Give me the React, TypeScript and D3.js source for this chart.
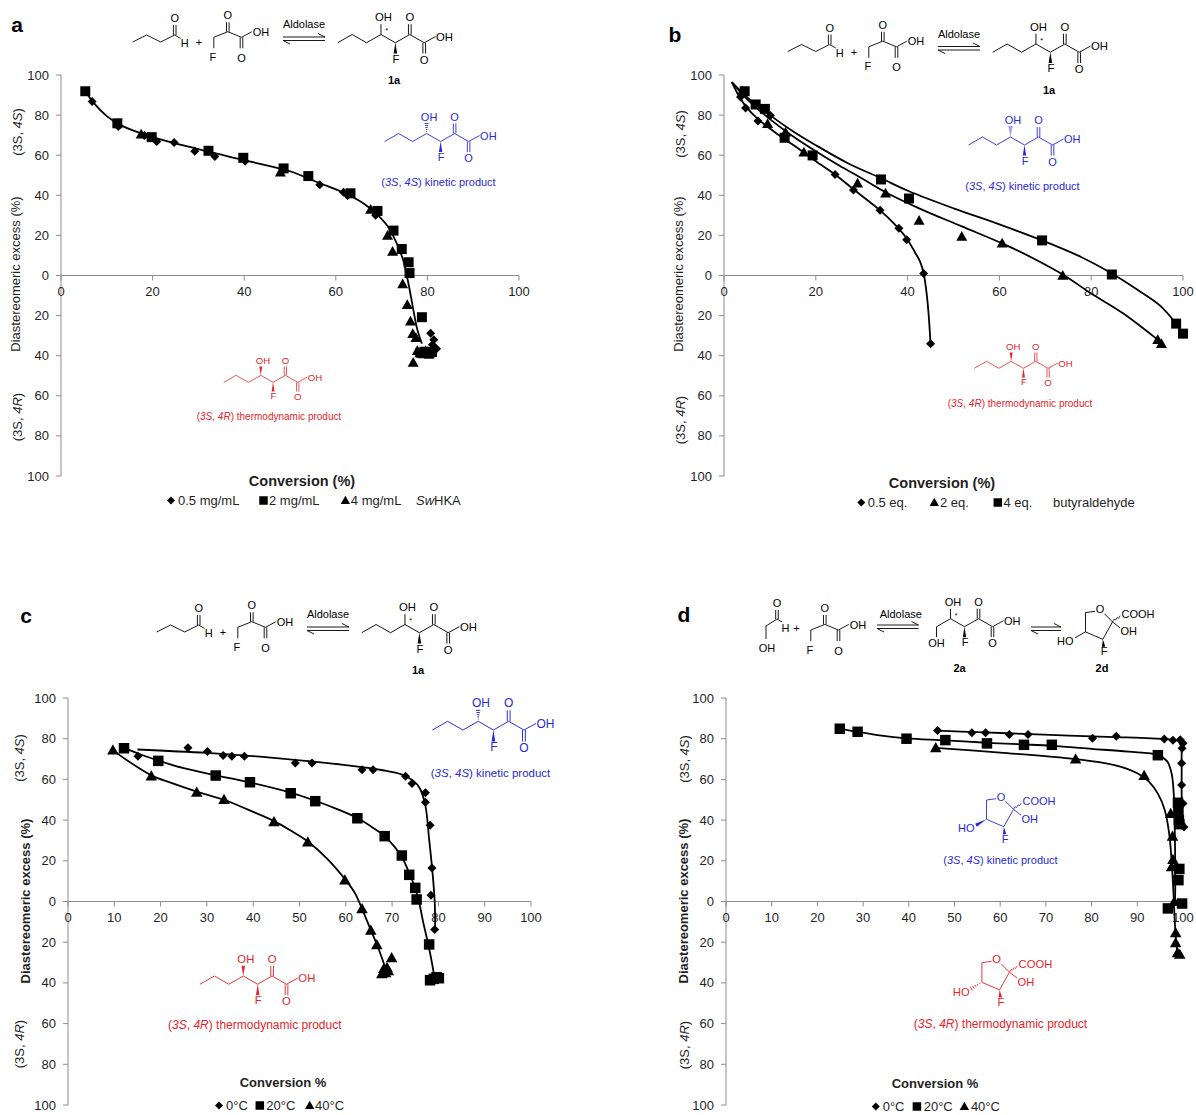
import React from "react";
import * as d3 from "d3";

type Pt = [number, number];
type Shape = "diamond" | "square" | "triangle";

const FONT = "'Liberation Sans', Arial, Helvetica, sans-serif";
const BLUE = "#2a2ad4";
const RED = "#e4262c";
const AXIS = "#8c8c8c";
const INK = "#1f1f1f";

const yTickValues = [100, 80, 60, 40, 20, 0, -20, -40, -60, -80, -100];
const xTicksBy20 = [0, 20, 40, 60, 80, 100];
const xTicksBy10 = [0, 10, 20, 30, 40, 50, 60, 70, 80, 90, 100];

// ---------- panel a : enzyme loading ----------
const aHalfMg: Pt[] = [
  [6.8, 86.8], [12.5, 74.3], [18.2, 69.8], [20.9, 66.8], [24.7, 66.3], [29.2, 62], [33.6, 59.4],
  [40.2, 57], [56.5, 45.3], [61.7, 41.5], [62.6, 39.9], [68.7, 30],
  [80.7, -28.8], [81.4, -32], [81.1, -34.5], [82, -36.5], [80.6, -38],
];
const aTwoMg: Pt[] = [
  [5.3, 91.9], [12.3, 75.9], [19.8, 69], [32.2, 62.2], [39.8, 58.7], [48.6, 53.4], [54, 49.6],
  [63.2, 41], [69.1, 32.2], [72.6, 22.4], [74.4, 13.2], [75.9, 6.6], [76.1, 1.2], [78.8, -20.8],
  [78.5, -38.5], [79.4, -38], [80.4, -39], [81, -38.2],
];
const aFourMg: Pt[] = [
  [17.5, 70.5], [47.9, 51.5], [67.6, 32.9], [71.3, 20], [72.4, 12], [74.6, -4.2], [75.6, -14.6],
  [76.3, -22.8], [76.8, -29], [77.5, -31], [76.9, -43.4], [77.8, -37.5], [78.4, -38.5],
  [79, -39.2], [79.6, -37.6], [80.1, -39],
];
const aFit: Pt[] = [
  [5.3, 92], [7, 86.5], [10, 79.5], [13, 75], [20, 69], [30, 63], [40, 57.5], [50, 52], [56, 46.5],
  [62, 41], [66, 36], [69, 30.5], [71.5, 24], [73.5, 15], [74.8, 7], [75.5, 0], [76.2, -8],
  [77, -18], [77.8, -27], [78.8, -34],
];
const aLegend = ["0.5 mg/mL", "2 mg/mL", "4 mg/mL"];

// ---------- panel b : butyraldehyde equivalents ----------
const bHalfEq: Pt[] = [
  [3.6, 89], [4.7, 83.6], [7.4, 77], [10.1, 79.8], [24.2, 50.4], [28.2, 42.7], [34, 32.5],
  [38.1, 23.6], [39.8, 17.8], [43.5, 1], [45, -34],
];
const bTwoEq: Pt[] = [
  [4, 92], [9.5, 75.7], [13.4, 71.5], [17.4, 61.5], [29.1, 46], [35.2, 41], [42.5, 27.4],
  [51.8, 19.5], [60.6, 16.1], [73.8, 0], [94.5, -32], [95.3, -34],
];
const bFourEq: Pt[] = [
  [4.5, 91.9], [6.9, 85.3], [8.9, 83.1], [13.2, 68.7], [19.3, 59.9], [34.2, 47.9], [40.3, 38.4],
  [69.3, 17.5], [84.5, 0.5], [98.5, -24], [100, -29],
];
const bFitHalf: Pt[] = [
  [1.7, 96.4], [3, 90.5], [4.7, 84.5], [7.4, 78], [12, 70], [17, 62], [20, 57], [24.2, 50.4],
  [28.2, 43], [31, 38], [34, 32.5], [37, 26], [39.8, 18.5], [41.5, 12], [42.7, 7], [43.5, 1],
  [44.2, -10], [44.6, -20], [45, -34],
];
const bFitTwo: Pt[] = [
  [1.7, 96.4], [5, 88], [10, 78], [15, 69.5], [20, 62], [25, 55], [30, 48.5], [35.2, 41.5],
  [42.5, 33.5], [51.8, 24.5], [60.6, 16], [67, 9], [73.8, 0.5], [80, -9], [87, -19], [95, -33],
];
const bFitFour: Pt[] = [
  [1.7, 96.4], [5, 89], [10, 80], [15, 72], [20, 65], [27, 56], [34.2, 48.5], [40.3, 42],
  [50, 33.5], [60, 25.5], [69.3, 17.5], [78, 9], [84.5, 1], [90, -7], [95, -15], [98.5, -24],
  [100, -29],
];
const bLegend = ["0.5 eq.", "2 eq.", "4 eq."];

// ---------- panel c : temperature, 1a ----------
const cT0: Pt[] = [
  [15.1, 71.4], [25.9, 75.5], [30.1, 73.7], [33.5, 71.7], [35.4, 71.4], [38.1, 71.4], [49.1, 68],
  [52.7, 68], [63.5, 64.7], [65.9, 64.7], [72.9, 61.6], [74.3, 58], [77.2, 53.4], [77.2, 48.8],
  [78.2, 37.5], [78.6, 16.5], [78.4, 3.1], [79.2, -13.8],
];
const cT20: Pt[] = [
  [12.1, 75.3], [19.5, 69.1], [31.9, 61.9], [39.3, 58.6], [48.1, 53.2], [53.4, 49.3], [62.5, 40.9],
  [68.4, 32.1], [72.1, 22.6], [73.7, 13.1], [75, 6.7], [75.3, 1], [78, -21.1], [78.2, -38.7],
  [79, -38], [79.6, -37.2], [80.1, -37.7],
];
const cT40: Pt[] = [
  [9.7, 74.4], [18, 61.6], [27.8, 53.7], [33.7, 50.1], [44.5, 39.2], [51.8, 29.2], [59.8, 10.5],
  [63.5, -3.6], [65.4, -14.1], [66.7, -21.3], [69.9, -27.7], [68.2, -33], [68.6, -35],
  [69.2, -34], [67.8, -35.5], [68.9, -32.5],
];
const cFit0: Pt[] = [
  [15, 74.7], [30, 73], [45, 70.5], [60, 67], [68, 64.5], [72, 62.5], [74.5, 59.5], [76, 55.5],
  [77.2, 47], [78, 30.5], [78.7, 15], [79.2, 0], [79.3, -13],
];
const cFit20: Pt[] = [
  [12.1, 75.5], [16, 72], [19.5, 69.3], [25, 65.5], [31.9, 62], [39.3, 58.5], [48.1, 53.5],
  [53.4, 49.5], [58, 45.5], [62.5, 41], [66, 36], [68.4, 32], [70.5, 27], [72.1, 22], [73.7, 14],
  [75, 6.5], [75.8, 0], [76.7, -10], [77.8, -21], [78.6, -30], [79.2, -38],
];
const cFit40: Pt[] = [
  [9.7, 74.4], [13, 69], [18, 62], [22, 58.5], [27.8, 54], [33.7, 50], [39, 45], [44.5, 39.5],
  [48, 35], [51.8, 29.5], [56, 21], [60, 10.5], [62, 4], [63.5, -3.6], [65.4, -14], [66.7, -21],
  [68, -29], [68.6, -33],
];
const tempLegend = ["0°C", "20°C", "40°C"];

// ---------- panel d : temperature, 2a ----------
const dT0: Pt[] = [
  [46.3, 84], [53.8, 82.9], [56.8, 82.9], [62, 82.1], [66.1, 82.1], [80.2, 80.2], [85.4, 81.2],
  [95.9, 79.8], [97.8, 79.2], [99.4, 79.5], [100, 77.8], [99.8, 75.3], [99.7, 67.9], [99.7, 57.2],
  [100, 48.1], [99.6, 38.2], [100.2, 36.6],
];
const dT20: Pt[] = [
  [24.9, 84.9], [28.8, 83.4], [39.5, 80], [48, 79.3], [57.1, 77.7], [65.2, 77], [71.3, 77],
  [94.5, 71.9], [98.9, 48.5], [99, 44.7], [99.1, 40], [99.2, 38], [99.2, 16], [99, 10.5],
  [96.7, -3.4], [99.8, -1],
];
const dT40: Pt[] = [
  [45.9, 75.5], [76.5, 70], [91.5, 61.9], [97.3, 43.2], [97.7, 32], [97.8, 20.6], [97.5, 17],
  [98.1, 0], [98.4, -15.4], [98.4, -20.3], [98.8, -25.2], [99.3, -26],
];
const dFit0: Pt[] = [
  [46.3, 84], [55, 83.2], [65, 82.4], [75, 81.5], [85, 80.8], [93, 80.2], [97.5, 79.6], [99, 78.8],
  [99.6, 76], [99.7, 70], [99.7, 55], [99.8, 37],
];
const dFit20: Pt[] = [
  [24.9, 85], [28.8, 83.4], [34, 81.5], [39.5, 80.2], [48, 79.2], [57, 78], [65, 77.2], [71.3, 76.5],
  [80, 75], [88, 73.6], [94.5, 72], [96.5, 69], [97.5, 63], [98, 52], [98.2, 35], [98.3, 15],
  [98.2, 0], [97.9, -3],
];
const dFit40: Pt[] = [
  [45.9, 75.5], [60, 73.2], [76.5, 70], [85, 67], [90, 63], [92.5, 59], [94.5, 53], [96, 45],
  [97, 33], [97.5, 20], [97.9, 5], [98.2, -10], [98.5, -20], [98.8, -25],
];

// ---------------------------------------------------------------------------

function markerPath(shape: Shape, x: number, y: number, size: number) {
  const h = size / 2;
  if (shape === "diamond") return `M${x},${y - h}L${x + h},${y}L${x},${y + h}L${x - h},${y}Z`;
  if (shape === "square") return `M${x - h},${y - h}h${size}v${size}h${-size}Z`;
  return `M${x},${y - h * 1.1}L${x + h * 1.1},${y + h * 0.85}L${x - h * 1.1},${y + h * 0.85}Z`;
}

interface SeriesCfg { shape: Shape; pts: Pt[]; size: number }
interface PanelCfg {
  x0: number; x1: number; yTop: number; yBot: number; xTicks: number[];
  labelGap: number; series: SeriesCfg[]; fits: Pt[][];
}

function Panel(p: PanelCfg) {
  const xs = d3.scaleLinear().domain([0, 100]).range([p.x0, p.x1]);
  const ys = d3.scaleLinear().domain([100, -100]).range([p.yTop, p.yBot]);
  const y0 = ys(0);
  const line = d3
    .line<Pt>()
    .x((d) => xs(d[0]))
    .y((d) => ys(d[1]))
    .curve(d3.curveCatmullRom.alpha(0.5));
  return (
    <g fontFamily={FONT}>
      <line x1={p.x0} y1={p.yTop} x2={p.x0} y2={p.yBot} stroke={AXIS} strokeWidth={1} />
      {yTickValues.map((v) => (
        <g key={"y" + v}>
          <line x1={p.x0 - 5} x2={p.x0} y1={ys(v)} y2={ys(v)} stroke={AXIS} />
          <text x={p.x0 - p.labelGap} y={ys(v) + 4.5} textAnchor="end" fontSize={13} fill={INK}>
            {Math.abs(v)}
          </text>
        </g>
      ))}
      <line x1={p.x0} x2={p.x1} y1={y0} y2={y0} stroke={AXIS} />
      {p.xTicks.map((v) => (
        <g key={"x" + v}>
          <line x1={xs(v)} x2={xs(v)} y1={y0} y2={y0 + 5} stroke={AXIS} />
          <text x={xs(v)} y={y0 + 20} textAnchor="middle" fontSize={13} fill={INK}>
            {v}
          </text>
        </g>
      ))}
      {p.fits.map((f, i) => (
        <path key={"f" + i} d={line(f) || ""} fill="none" stroke="#000" strokeWidth={1.8} />
      ))}
      {p.series.map((s, i) => (
        <g key={"s" + i}>
          {s.pts.map((d, j) => (
            <path key={j} d={markerPath(s.shape, xs(d[0]), ys(d[1]), s.size)} fill="#000" />
          ))}
        </g>
      ))}
    </g>
  );
}

// ---------- chemistry drawing helpers ----------
function Wedge({ x1, y1, x2, y2, w = 3.4, color }: { x1: number; y1: number; x2: number; y2: number; w?: number; color: string }) {
  const dx = x2 - x1, dy = y2 - y1;
  const L = Math.hypot(dx, dy) || 1;
  const nx = (-dy / L) * (w / 2), ny = (dx / L) * (w / 2);
  return <polygon points={`${x1},${y1} ${x2 + nx},${y2 + ny} ${x2 - nx},${y2 - ny}`} fill={color} stroke="none" />;
}
function Hash({ x1, y1, x2, y2, w = 4, n = 5, color }: { x1: number; y1: number; x2: number; y2: number; w?: number; n?: number; color: string }) {
  const dx = x2 - x1, dy = y2 - y1;
  const L = Math.hypot(dx, dy) || 1;
  const ux = -dy / L, uy = dx / L;
  const segs = [];
  for (let i = 1; i <= n; i++) {
    const t = i / n;
    const cx = x1 + dx * t, cy = y1 + dy * t;
    const h = (w / 2) * t;
    segs.push(<line key={i} x1={cx - ux * h} y1={cy - uy * h} x2={cx + ux * h} y2={cy + uy * h} stroke={color} strokeWidth={0.9} />);
  }
  return <g>{segs}</g>;
}
function Dbl({ x, y1, y2, color }: { x: number; y1: number; y2: number; color: string }) {
  return (
    <g stroke={color} strokeWidth={0.9}>
      <line x1={x - 1.3} y1={y1} x2={x - 1.3} y2={y2} />
      <line x1={x + 1.3} y1={y1} x2={x + 1.3} y2={y2} />
    </g>
  );
}

type Kind = "1a" | "2a" | "kinetic" | "thermo";
function KetoAcid({ x, y, s = 1, color = "#000", kind }: { x: number; y: number; s?: number; color?: string; kind: Kind }) {
  const V: Pt[] = [[0, 8], [14, 0], [28, 8], [42, 0], [56, 8], [70, 0], [84, 8], [95, 2]];
  const pts = kind === "2a" ? V.slice(2) : V;
  return (
    <g transform={`translate(${x},${y}) scale(${s})`} fontFamily={FONT}>
      <polyline points={pts.map((p) => p.join(",")).join(" ")} fill="none" stroke={color} strokeWidth={0.9} />
      {kind === "kinetic" ? (
        <Hash x1={42} y1={0} x2={42} y2={-10} color={color} />
      ) : kind === "thermo" ? (
        <Wedge x1={42} y1={0} x2={42} y2={-10} color={color} />
      ) : (
        <line x1={42} y1={0} x2={42} y2={-10} stroke={color} strokeWidth={0.9} />
      )}
      <Wedge x1={56} y1={8} x2={56} y2={18.5} color={color} />
      <Dbl x={70} y1={0} y2={-10} color={color} />
      <Dbl x={84} y1={8} y2={18.5} color={color} />
      {kind === "2a" && <line x1={28} y1={8} x2={28} y2={18.5} stroke={color} strokeWidth={0.9} />}
      <g fill={color} fontSize={11}>
        <text x={44.5} y={-13} textAnchor="middle">OH</text>
        <text x={56.5} y={27.5} textAnchor="middle">F</text>
        <text x={70} y={-13} textAnchor="middle">O</text>
        <text x={84} y={28.5} textAnchor="middle">O</text>
        <text x={95.5} y={6} textAnchor="start">OH</text>
        {kind === "2a" && <text x={28} y={28.5} textAnchor="middle">OH</text>}
        {(kind === "1a" || kind === "2a") && (
          <text x={47.5} y={-1} fontSize={7} textAnchor="middle">*</text>
        )}
      </g>
    </g>
  );
}

function Butanal({ x, y }: { x: number; y: number }) {
  return (
    <g transform={`translate(${x},${y})`} fontFamily={FONT}>
      <polyline points="0,7 14,0 28,7 42,0 48,3.5" fill="none" stroke="#000" strokeWidth={0.9} />
      <Dbl x={42} y1={0} y2={-10} color="#000" />
      <text x={42} y={-13} fontSize={11} textAnchor="middle">O</text>
      <text x={52} y={12} fontSize={11} textAnchor="middle">H</text>
    </g>
  );
}

function Glycolaldehyde({ x, y }: { x: number; y: number }) {
  return (
    <g transform={`translate(${x},${y})`} fontFamily={FONT}>
      <polyline points="0,13 0,0 11,-7 16,-4" fill="none" stroke="#000" strokeWidth={0.9} />
      <Dbl x={11} y1={-7} y2={-16} color="#000" />
      <text x={11} y={-19} fontSize={11} textAnchor="middle">O</text>
      <text x={19.5} y={6} fontSize={11} textAnchor="middle">H</text>
      <text x={1} y={26} fontSize={11} textAnchor="middle">OH</text>
    </g>
  );
}

function Fluoropyruvate({ x, y }: { x: number; y: number }) {
  return (
    <g transform={`translate(${x},${y})`} fontFamily={FONT}>
      <polyline points="0,11 0,0 14,-5.6 27.7,0 38,-5.6" fill="none" stroke="#000" strokeWidth={0.9} />
      <Dbl x={14} y1={-5.6} y2={-15} color="#000" />
      <Dbl x={27.7} y1={0} y2={11} color="#000" />
      <text x={-1} y={23.5} fontSize={11} textAnchor="middle">F</text>
      <text x={14} y={-18} fontSize={11} textAnchor="middle">O</text>
      <text x={27.7} y={24.5} fontSize={11} textAnchor="middle">O</text>
      <text x={39} y={-1.5} fontSize={11}>OH</text>
    </g>
  );
}

function Equil({ x1, x2, y }: { x1: number; x2: number; y: number }) {
  return (
    <g stroke="#000" strokeWidth={0.9} fill="none">
      <path d={`M${x1},${y}H${x2}l-7,-3.5`} />
      <path d={`M${x2},${y + 3.5}H${x1}l7,3.5`} />
    </g>
  );
}

function Furanose({ x, y, s = 1, color = "#000", ho }: { x: number; y: number; s?: number; color?: string; ho: "plain" | "bold" | "hash" }) {
  const c4: Pt = [-14.5, 22.6];
  const hoEnd: Pt = [-25, 28.5];
  return (
    <g transform={`translate(${x},${y}) scale(${s})`} fontFamily={FONT}>
      <polyline points="-5,2 -14.5,3.3 -14.5,22.6 2.8,30 12.5,12.6 4.5,4.5" fill="none" stroke={color} strokeWidth={0.9} />
      {ho === "plain" ? (
        <line x1={c4[0]} y1={c4[1]} x2={hoEnd[0]} y2={hoEnd[1]} stroke={color} strokeWidth={0.9} />
      ) : ho === "bold" ? (
        <Wedge x1={c4[0]} y1={c4[1]} x2={hoEnd[0]} y2={hoEnd[1]} color={color} />
      ) : (
        <Hash x1={c4[0]} y1={c4[1]} x2={hoEnd[0]} y2={hoEnd[1]} color={color} />
      )}
      <Wedge x1={2.8} y1={30} x2={3.6} y2={37.5} color={color} />
      <path d="M12.5,12.6 l1.6,-2.6 l1.4,0.8 l1.6,-2.6 l1.4,0.8 l1.6,-2.6" fill="none" stroke={color} strokeWidth={0.8} />
      <line x1={12.5} y1={12.6} x2={20} y2={18.5} stroke={color} strokeWidth={0.9} />
      <g fill={color} fontSize={11}>
        <text x={0} y={4} textAnchor="middle">O</text>
        <text x={21.5} y={8.5}>COOH</text>
        <text x={20.5} y={26}>OH</text>
        <text x={4.2} y={46} textAnchor="middle">F</text>
        <text x={-26.5} y={35.5} textAnchor="end">HO</text>
      </g>
    </g>
  );
}

function Stereo({ x, y, size, color, b, suffix = "" }: { x: number; y: number; size: number; color: string; b: string; suffix?: string }) {
  return (
    <text x={x} y={y} fontSize={size} fill={color} textAnchor="middle" fontFamily={FONT}>
      {"("}
      <tspan fontStyle="italic">3S</tspan>
      {", "}
      <tspan fontStyle="italic">{b}</tspan>
      {")" + suffix}
    </text>
  );
}

function YTitle({ x, cy, bold, kind }: { x: number; cy: number; bold?: boolean; kind: "top" | "mid" | "bot" }) {
  const t = `translate(${x + 4.5},${cy}) rotate(-90)`;
  if (kind === "mid")
    return (
      <text transform={t} textAnchor="middle" fontSize={13} fontWeight={bold ? "bold" : "normal"} fill={INK} fontFamily={FONT}>
        Diastereomeric excess (%)
      </text>
    );
  return (
    <text transform={t} textAnchor="middle" fontSize={13} fill={INK} fontFamily={FONT}>
      {"("}3S{", "}
      <tspan fontStyle="italic">{kind === "top" ? "4S" : "4R"}</tspan>
      {")"}
    </text>
  );
}

function SchemeA() {
  return (
    <g fontFamily={FONT}>
      <Butanal x={132.7} y={35} />
      <text x={199} y={46} fontSize={11} textAnchor="middle">+</text>
      <Fluoropyruvate x={213.8} y={37.3} />
      <text x={304} y={28} fontSize={11} textAnchor="middle">Aldolase</text>
      <Equil x1={283} x2={325} y={37} />
      <KetoAcid x={337.7} y={34.5} s={1.03} kind="1a" />
      <text x={394} y={84} fontSize={11} fontWeight="bold" textAnchor="middle">1a</text>
    </g>
  );
}

function SchemeD() {
  return (
    <g fontFamily={FONT}>
      <Glycolaldehyde x={766} y={626} />
      <text x={796.5} y={632} fontSize={11} textAnchor="middle">+</text>
      <Fluoropyruvate x={810.8} y={630} />
      <text x={900.8} y={618} fontSize={11} textAnchor="middle">Aldolase</text>
      <Equil x1={877} x2={918.5} y={625} />
      <KetoAcid x={908.5} y={618.7} kind="2a" />
      <text x={959.6} y={672} fontSize={11} fontWeight="bold" textAnchor="middle">2a</text>
      <Equil x1={1031} x2={1061} y={627} />
      <Furanose x={1100} y={609.3} ho="plain" />
      <text x={1102} y={672} fontSize={11} fontWeight="bold" textAnchor="middle">2d</text>
    </g>
  );
}

function Legend({ items, y }: { items: { shape: Shape; label: string; mx: number; tx: number }[]; y: number }) {
  return (
    <g fontFamily={FONT} fontSize={13} fill={INK}>
      {items.map((it, i) => (
        <g key={i}>
          <path d={markerPath(it.shape, it.mx, y - 4.5, it.shape === "diamond" ? 8 : 8.5)} fill="#000" />
          <text x={it.tx} y={y}>{it.label}</text>
        </g>
      ))}
    </g>
  );
}

export default function App() {
  const panelA: PanelCfg = {
    x0: 61, x1: 519, yTop: 75, yBot: 476, xTicks: xTicksBy20, labelGap: 12,
    fits: [aFit],
    series: [
      { shape: "triangle", pts: aFourMg, size: 10 },
      { shape: "square", pts: aTwoMg, size: 10 },
      { shape: "diamond", pts: aHalfMg, size: 9 },
    ],
  };
  const panelB: PanelCfg = {
    x0: 724, x1: 1183, yTop: 75, yBot: 476, xTicks: xTicksBy20, labelGap: 12,
    fits: [bFitHalf, bFitTwo, bFitFour],
    series: [
      { shape: "diamond", pts: bHalfEq, size: 9 },
      { shape: "triangle", pts: bTwoEq, size: 10 },
      { shape: "square", pts: bFourEq, size: 10 },
    ],
  };
  const panelC: PanelCfg = {
    x0: 68, x1: 531, yTop: 698, yBot: 1105, xTicks: xTicksBy10, labelGap: 12,
    fits: [cFit0, cFit20, cFit40],
    series: [
      { shape: "diamond", pts: cT0, size: 9 },
      { shape: "square", pts: cT20, size: 10.5 },
      { shape: "triangle", pts: cT40, size: 10.5 },
    ],
  };
  const panelD: PanelCfg = {
    x0: 726, x1: 1183, yTop: 698, yBot: 1105, xTicks: xTicksBy10, labelGap: 12,
    fits: [dFit0, dFit20, dFit40],
    series: [
      { shape: "diamond", pts: dT0, size: 9 },
      { shape: "square", pts: dT20, size: 10.5 },
      { shape: "triangle", pts: dT40, size: 10.5 },
    ],
  };

  return (
    <svg
      width={1196}
      height={1115}
      viewBox="0 0 1196 1115"
      style={{ position: "absolute", left: 0, top: 0, background: "#fff", display: "block" }}
      fontFamily={FONT}
    >
      <rect x={0} y={0} width={1196} height={1115} fill="#fff" />

      {/* panel letters */}
      <g fontFamily={FONT} fontWeight="bold" fontSize={21} textAnchor="middle">
        <text x={17} y={32}>a</text>
        <text x={675} y={42}>b</text>
        <text x={26} y={623}>c</text>
        <text x={684} y={622}>d</text>
      </g>

      {/* reaction schemes */}
      <SchemeA />
      <g transform="translate(655,9.5)"><SchemeA /></g>
      <g transform="translate(24,590)"><SchemeA /></g>
      <SchemeD />

      {/* plots */}
      <Panel {...panelA} />
      <Panel {...panelB} />
      <Panel {...panelC} />
      <Panel {...panelD} />

      {/* y titles */}
      <YTitle x={17} cy={132} kind="top" />
      <YTitle x={15} cy={274} kind="mid" />
      <YTitle x={17} cy={417} kind="bot" />
      <YTitle x={680} cy={134} kind="top" />
      <YTitle x={678} cy={274} kind="mid" />
      <YTitle x={680} cy={420} kind="bot" />
      <YTitle x={19} cy={758} kind="top" />
      <YTitle x={25} cy={901} kind="mid" bold />
      <YTitle x={19} cy={1044} kind="bot" />
      <YTitle x={684} cy={759} kind="top" />
      <YTitle x={683} cy={901} kind="mid" bold />
      <YTitle x={684} cy={1045} kind="bot" />

      {/* x titles */}
      <g fontFamily={FONT} fontWeight="bold" textAnchor="middle" fill={INK}>
        <text x={302} y={486} fontSize={14.5}>Conversion (%)</text>
        <text x={942} y={487.5} fontSize={14.5}>Conversion (%)</text>
        <text x={283} y={1087} fontSize={13}>Conversion %</text>
        <text x={935} y={1088} fontSize={13}>Conversion %</text>
      </g>

      {/* product structures and labels */}
      <KetoAcid x={384.6} y={133.5} color={BLUE} kind="kinetic" />
      <Stereo x={438.5} y={186} size={11} color={BLUE} b="4S" suffix=" kinetic product" />
      <KetoAcid x={223.8} y={375.3} s={0.88} color={RED} kind="thermo" />
      <Stereo x={269} y={419.5} size={10} color={RED} b="4R" suffix=" thermodynamic product" />

      <KetoAcid x={968.5} y={137} color={BLUE} kind="kinetic" />
      <Stereo x={1022.5} y={189.5} size={11} color={BLUE} b="4S" suffix=" kinetic product" />
      <KetoAcid x={974.2} y={361.3} s={0.88} color={RED} kind="thermo" />
      <Stereo x={1020} y={407} size={10} color={RED} b="4R" suffix=" thermodynamic product" />

      <KetoAcid x={432.4} y={721.3} s={1.09} color={BLUE} kind="kinetic" />
      <Stereo x={490.5} y={776.5} size={11.5} color={BLUE} b="4S" suffix=" kinetic product" />
      <KetoAcid x={200} y={976} s={1.03} color={RED} kind="thermo" />
      <Stereo x={254.8} y={1028.5} size={12} color={RED} b="4R" suffix=" thermodynamic product" />

      <Furanose x={1001} y={796.7} color={BLUE} ho="bold" />
      <Stereo x={1000.5} y={863.5} size={11} color={BLUE} b="4S" suffix=" kinetic product" />
      <Furanose x={996.7} y={959.3} s={1.02} color={RED} ho="hash" />
      <Stereo x={1000.5} y={1027.5} size={12} color={RED} b="4R" suffix=" thermodynamic product" />

      {/* legends */}
      <Legend
        y={505}
        items={[
          { shape: "diamond", label: aLegend[0], mx: 171, tx: 178 },
          { shape: "square", label: aLegend[1], mx: 263.5, tx: 269 },
          { shape: "triangle", label: aLegend[2], mx: 345.4, tx: 350.8 },
        ]}
      />
      <text x={416} y={505} fontSize={13} fontFamily={FONT} fill={INK}>
        <tspan fontStyle="italic">Sw</tspan>HKA
      </text>
      <Legend
        y={507}
        items={[
          { shape: "diamond", label: bLegend[0], mx: 861.3, tx: 867.7 },
          { shape: "triangle", label: bLegend[1], mx: 934.3, tx: 940 },
          { shape: "square", label: bLegend[2], mx: 997.8, tx: 1003.5 },
        ]}
      />
      <text x={1053} y={507} fontSize={13} fontFamily={FONT} fill={INK}>butyraldehyde</text>
      <Legend
        y={1110}
        items={[
          { shape: "diamond", label: tempLegend[0], mx: 219, tx: 226 },
          { shape: "square", label: tempLegend[1], mx: 259.8, tx: 266.3 },
          { shape: "triangle", label: tempLegend[2], mx: 309.7, tx: 315 },
        ]}
      />
      <Legend
        y={1111}
        items={[
          { shape: "diamond", label: tempLegend[0], mx: 875.8, tx: 882.7 },
          { shape: "square", label: tempLegend[1], mx: 916.9, tx: 923.7 },
          { shape: "triangle", label: tempLegend[2], mx: 964.4, tx: 970.9 },
        ]}
      />
    </svg>
  );
}
